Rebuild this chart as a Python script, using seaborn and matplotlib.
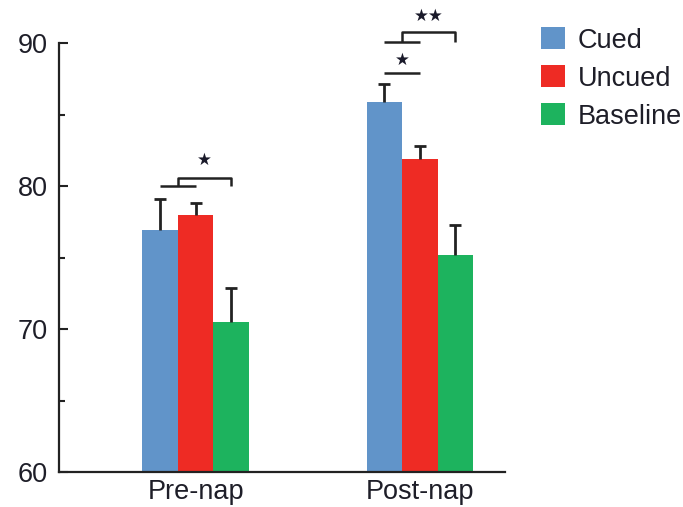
import matplotlib
matplotlib.use("Agg")
import matplotlib.pyplot as plt
import seaborn as sns
import pandas as pd
import numpy as np
from matplotlib.ticker import MultipleLocator

# ---- data ----
phases = ["Pre-nap", "Post-nap"]
conditions = ["Cued", "Uncued", "Baseline"]
cued = [76.9, 85.9]
uncued = [78.0, 81.9]
baseline = [70.5, 75.2]
cued_err = [2.2, 1.2]
uncued_err = [0.8, 0.9]
baseline_err = [2.4, 2.1]
colors = ["#6194C9", "#EE2B24", "#1DB35E"]

rows = []
for cond, vals, errs in zip(conditions, [cued, uncued, baseline],
                            [cued_err, uncued_err, baseline_err]):
    for ph, v, e in zip(phases, vals, errs):
        rows.append({"phase": ph, "condition": cond, "score": v, "err": e})
df = pd.DataFrame(rows)

sns.set_style("white")
plt.rcParams["font.family"] = ["Liberation Sans", "DejaVu Sans"]
plt.rcParams["text.color"] = "#1e1e28"
plt.rcParams["xtick.color"] = "#1e1e28"
plt.rcParams["ytick.color"] = "#1e1e28"

fig = plt.figure(figsize=(6.83, 5.07), dpi=100)
ax = fig.add_axes([59 / 683, 35 / 507, (505 - 59) / 683, (472 - 43) / 507])

sns.barplot(data=df, x="phase", y="score", hue="condition", order=phases,
            hue_order=conditions, palette=colors, errorbar=None, width=0.475,
            saturation=1, linewidth=0, edgecolor="none", ax=ax)

# error bars (upper only) from the data
centers = {}
for cond, container in zip(conditions, ax.containers):
    for ph, patch in zip(phases, container.patches):
        xc = patch.get_x() + patch.get_width() / 2
        centers[(ph, cond)] = xc
        sub = df[(df.phase == ph) & (df.condition == cond)].iloc[0]
        eb = ax.errorbar(xc, sub.score, yerr=[[0], [sub.err]], fmt="none",
                         ecolor="#222222", elinewidth=2.0, capsize=4.3,
                         capthick=2.0, zorder=3)
        caps = eb[1]
        if len(caps) > 0:
            caps[0].set_visible(False)

handles, labels = ax.get_legend_handles_labels()
if ax.get_legend() is not None:
    ax.get_legend().remove()

FS = 19.5
ax.set_ylim(60, 90)
ax.set_xlim(-0.61, 1.38)
ax.yaxis.set_major_locator(MultipleLocator(10))
ax.yaxis.set_minor_locator(MultipleLocator(5))
ax.tick_params(axis="y", which="major", direction="in", length=6.5,
               width=1.5, color="#222222", labelsize=FS, pad=8,
               left=True)
ax.tick_params(axis="y", which="minor", direction="in", length=4,
               width=1.5, color="#222222", left=True)
ax.tick_params(axis="x", length=0, labelsize=FS, pad=5)
ax.set_xlabel("")
ax.set_ylabel("")
for s in ["top", "right"]:
    ax.spines[s].set_visible(False)
for s in ["left", "bottom"]:
    ax.spines[s].set_color("#222222")
    ax.spines[s].set_linewidth(1.6)

# significance brackets
lk = dict(color="#222222", lw=1.8, clip_on=False, solid_capstyle="butt")
def star(x, y, s):
    ax.text(x, y, s, ha="center", va="center", fontsize=12,
            family="DejaVu Sans", color="#1a1a2a", clip_on=False)

# Pre-nap
c, u, b = (centers[("Pre-nap", k)] for k in conditions)
ax.plot([c, u], [80.0, 80.0], **lk)
m = (c + u) / 2
ax.plot([m, m, b, b], [80.0, 80.55, 80.55, 80.0], **lk)
star((m + b) / 2, 81.8, "★")

# Post-nap
c, u, b = (centers[("Post-nap", k)] for k in conditions)
ax.plot([c, u], [87.9, 87.9], **lk)
star((c + u) / 2, 88.8, "★")
ax.plot([c, u], [90.05, 90.05], **lk)
m = (c + u) / 2
ax.plot([m, m, b, b], [90.05, 90.75, 90.75, 90.05], **lk)
star((m + b) / 2, 91.9, "★★")

fig.legend(handles, labels, loc="upper left",
           bbox_to_anchor=(541 / 683, (507 - 27) / 507),
           frameon=False, fontsize=FS, handlelength=0.9,
           handleheight=0.9, handletextpad=0.45, labelspacing=0.42,
           borderpad=0, borderaxespad=0)

fig.savefig("out.png", dpi=100)
